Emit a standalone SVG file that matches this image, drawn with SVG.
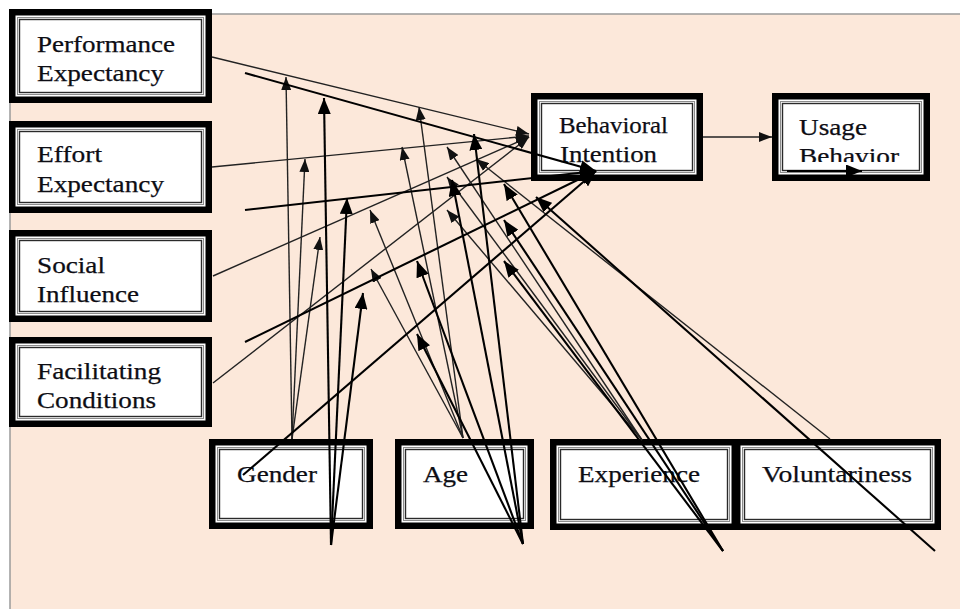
<svg xmlns="http://www.w3.org/2000/svg" width="960" height="609" viewBox="0 0 960 609">
  <defs>
    <style>
      .fo{fill:#000}
      .fi{fill:#fff}
      .r1{fill:none;stroke:#8c8c8c;stroke-width:1}
      .r2{fill:none;stroke:#2a2a2a;stroke-width:1.4}
      .lbl{font-family:"Liberation Serif","Times New Roman",serif;font-size:24px;fill:#0d0d14;stroke:#0d0d14;stroke-width:0.25}
      .thin{stroke:#222;stroke-width:1.4;fill:none;marker-end:url(#hs)}
      .thick{stroke:#000;stroke-width:2.1;fill:none;marker-end:url(#hl)}
    </style>
    <marker id="hs" markerUnits="userSpaceOnUse" markerWidth="13" markerHeight="10" viewBox="0 0 13 10" refX="13" refY="5" orient="auto">
      <path d="M0,0 L13,5 L0,10 z" fill="#111"/>
    </marker>
    <marker id="hl" markerUnits="userSpaceOnUse" markerWidth="16" markerHeight="13" viewBox="0 0 16 13" refX="16" refY="6.5" orient="auto">
      <path d="M0,0 L16,6.5 L0,13 z" fill="#000"/>
    </marker>
    <clipPath id="ubClip">
      <rect x="780" y="100" width="145" height="62"/>
    </clipPath>
  </defs>

  <!-- page background with its top and left rule -->
  <rect x="0" y="0" width="960" height="609" fill="#fff"/>
  <rect x="10" y="14" width="950" height="595" fill="#fce8da"/>
  <path d="M10,609 V14 H960" fill="none" stroke="#9a9a9a" stroke-width="1.5"/>

  <!-- predictor nodes -->
  <g id="performance-expectancy">
    <rect class="fo" x="9" y="9" width="203" height="94"/>
    <rect class="fi" x="15.5" y="15.5" width="190" height="81"/>
    <rect class="r1" x="17.5" y="17.5" width="186" height="77"/>
    <rect class="r2" x="19.5" y="19.5" width="182" height="73"/>
    <text class="lbl" x="37" y="52" textLength="138" lengthAdjust="spacingAndGlyphs">Performance</text>
    <text class="lbl" x="37" y="81" textLength="127" lengthAdjust="spacingAndGlyphs">Expectancy</text>
  </g>
  <g id="effort-expectancy">
    <rect class="fo" x="9" y="121" width="203" height="92"/>
    <rect class="fi" x="15.5" y="127.5" width="190" height="79"/>
    <rect class="r1" x="17.5" y="129.5" width="186" height="75"/>
    <rect class="r2" x="19.5" y="131.5" width="182" height="71"/>
    <text class="lbl" x="37" y="162" textLength="65" lengthAdjust="spacingAndGlyphs">Effort</text>
    <text class="lbl" x="37" y="192" textLength="127" lengthAdjust="spacingAndGlyphs">Expectancy</text>
  </g>
  <g id="social-influence">
    <rect class="fo" x="9" y="230" width="203" height="92"/>
    <rect class="fi" x="15.5" y="236.5" width="190" height="79"/>
    <rect class="r1" x="17.5" y="238.5" width="186" height="75"/>
    <rect class="r2" x="19.5" y="240.5" width="182" height="71"/>
    <text class="lbl" x="37" y="273" textLength="68" lengthAdjust="spacingAndGlyphs">Social</text>
    <text class="lbl" x="37" y="302" textLength="102" lengthAdjust="spacingAndGlyphs">Influence</text>
  </g>
  <g id="facilitating-conditions">
    <rect class="fo" x="9" y="337" width="203" height="90"/>
    <rect class="fi" x="15.5" y="343.5" width="190" height="77"/>
    <rect class="r1" x="17.5" y="345.5" width="186" height="73"/>
    <rect class="r2" x="19.5" y="347.5" width="182" height="69"/>
    <text class="lbl" x="37" y="379" textLength="124" lengthAdjust="spacingAndGlyphs">Facilitating</text>
    <text class="lbl" x="37" y="408" textLength="119" lengthAdjust="spacingAndGlyphs">Conditions</text>
  </g>

  <!-- outcome nodes -->
  <g id="behavioral-intention">
    <rect class="fo" x="531" y="93" width="172" height="88"/>
    <rect class="fi" x="537.5" y="99.5" width="159" height="75"/>
    <rect class="r1" x="539.5" y="101.5" width="155" height="71"/>
    <rect class="r2" x="541.5" y="103.5" width="151" height="67"/>
    <text class="lbl" x="559" y="133" textLength="109" lengthAdjust="spacingAndGlyphs">Behavioral</text>
    <text class="lbl" x="560" y="162" textLength="97" lengthAdjust="spacingAndGlyphs">Intention</text>
  </g>
  <g id="usage-behavior">
    <rect class="fo" x="772" y="93" width="158" height="88"/>
    <rect class="fi" x="778.5" y="99.5" width="145" height="75"/>
    <rect class="r1" x="780.5" y="101.5" width="141" height="71"/>
    <rect class="r2" x="782.5" y="103.5" width="137" height="67"/>
    <g clip-path="url(#ubClip)">
      <text class="lbl" x="799" y="135" textLength="68" lengthAdjust="spacingAndGlyphs">Usage</text>
      <text class="lbl" x="799" y="164" textLength="100" lengthAdjust="spacingAndGlyphs">Behavior</text>
    </g>
  </g>

  <!-- moderator nodes -->
  <g id="gender">
    <rect class="fo" x="209" y="439" width="164" height="90"/>
    <rect class="fi" x="215.5" y="445.5" width="151" height="77"/>
    <rect class="r1" x="217.5" y="447.5" width="147" height="73"/>
    <rect class="r2" x="219.5" y="449.5" width="143" height="69"/>
    <text class="lbl" x="237" y="482" textLength="80" lengthAdjust="spacingAndGlyphs">Gender</text>
  </g>
  <g id="age">
    <rect class="fo" x="395" y="439" width="139" height="90"/>
    <rect class="fi" x="401.5" y="445.5" width="126" height="77"/>
    <rect class="r1" x="403.5" y="447.5" width="122" height="73"/>
    <rect class="r2" x="405.5" y="449.5" width="118" height="69"/>
    <text class="lbl" x="423" y="482" textLength="45" lengthAdjust="spacingAndGlyphs">Age</text>
  </g>
  <g id="experience">
    <rect class="fo" x="550" y="439" width="188" height="91"/>
    <rect class="fi" x="556.5" y="445.5" width="175" height="78"/>
    <rect class="r1" x="558.5" y="447.5" width="171" height="74"/>
    <rect class="r2" x="560.5" y="449.5" width="167" height="70"/>
    <text class="lbl" x="578" y="482" textLength="122" lengthAdjust="spacingAndGlyphs">Experience</text>
  </g>
  <g id="voluntariness">
    <rect class="fo" x="734" y="439" width="207" height="91"/>
    <rect class="fi" x="740.5" y="445.5" width="194" height="78"/>
    <rect class="r1" x="742.5" y="447.5" width="190" height="74"/>
    <rect class="r2" x="744.5" y="449.5" width="186" height="70"/>
    <text class="lbl" x="762" y="482" textLength="150" lengthAdjust="spacingAndGlyphs">Voluntariness</text>
  </g>

  <!-- connectors: fine-line paths -->
  <g id="connectors-fine">
    <line class="thin" x1="212" y1="57" x2="529" y2="134"/>
    <line class="thin" x1="212" y1="167" x2="529" y2="136"/>
    <line class="thin" x1="213" y1="276" x2="529" y2="137"/>
    <line class="thin" x1="213" y1="383" x2="529" y2="137"/>
    <line class="thin" x1="703" y1="137" x2="772" y2="137"/>
    <!-- gender -->
    <line class="thin" x1="292" y1="439" x2="286" y2="77"/>
    <line class="thin" x1="292" y1="439" x2="305" y2="159"/>
    <line class="thin" x1="292" y1="439" x2="320" y2="237"/>
    <!-- age -->
    <line class="thin" x1="463" y1="438" x2="419" y2="107"/>
    <line class="thin" x1="463" y1="438" x2="402" y2="147"/>
    <line class="thin" x1="463" y1="438" x2="370" y2="210"/>
    <line class="thin" x1="463" y1="438" x2="371" y2="269"/>
    <!-- experience -->
    <line class="thin" x1="642" y1="440" x2="447" y2="147"/>
    <line class="thin" x1="642" y1="440" x2="447" y2="177"/>
    <line class="thin" x1="642" y1="440" x2="447" y2="210"/>
    <!-- voluntariness -->
    <line class="thin" x1="830" y1="439" x2="476" y2="159"/>
  </g>

  <!-- connectors: heavy-line paths -->
  <g id="connectors-heavy">
    <line class="thick" x1="245" y1="73" x2="596" y2="171"/>
    <line class="thick" x1="245" y1="210" x2="596" y2="171"/>
    <line class="thick" x1="245" y1="342" x2="596" y2="171"/>
    <line class="thick" x1="243" y1="475" x2="596" y2="171"/>
    <line class="thick" x1="787" y1="171" x2="862" y2="171"/>
    <!-- gender -->
    <line class="thick" x1="331" y1="545" x2="324" y2="98"/>
    <line class="thick" x1="331" y1="545" x2="347" y2="198"/>
    <line class="thick" x1="331" y1="545" x2="363" y2="293"/>
    <!-- age -->
    <line class="thick" x1="523" y1="544" x2="474" y2="134"/>
    <line class="thick" x1="523" y1="544" x2="452" y2="180"/>
    <line class="thick" x1="523" y1="544" x2="417" y2="261"/>
    <line class="thick" x1="523" y1="544" x2="417" y2="334"/>
    <!-- experience -->
    <line class="thick" x1="723" y1="551" x2="504" y2="184"/>
    <line class="thick" x1="723" y1="551" x2="504" y2="220"/>
    <line class="thick" x1="723" y1="551" x2="504" y2="261"/>
    <!-- voluntariness -->
    <line class="thick" x1="935" y1="551" x2="536" y2="197"/>
  </g>
</svg>
